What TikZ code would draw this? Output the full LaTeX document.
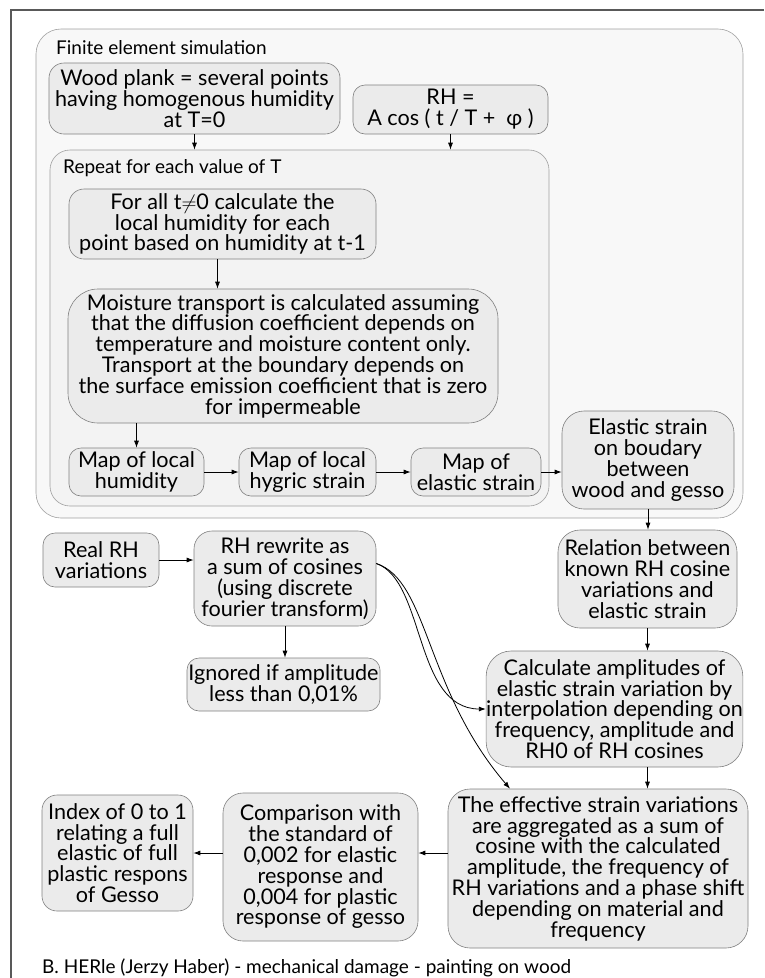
\documentclass[tikz,border=0pt]{standalone}
\usepackage{fontspec}
\setmainfont{Lato}
\usetikzlibrary{arrows.meta}

\definecolor{boxfill}{HTML}{EBEBEB}
\definecolor{boxline}{HTML}{808080}
\definecolor{outerfill}{HTML}{F8F8F8}
\definecolor{innerfill}{HTML}{F3F3F3}
\definecolor{frameline}{HTML}{A0A0A0}

\begin{document}
\begin{tikzpicture}[x=1pt, y=-1pt,
    font=\fontsize{19}{20.8}\selectfont,
    box/.style={draw=boxline, fill=boxfill, line width=0.6pt, rounded corners=15pt, align=center, inner sep=0pt,
        font=\fontsize{21.6}{20.8}\selectfont},
    group/.style={draw=frameline, line width=0.6pt, inner sep=0pt},
    arr/.style={-{Latex[length=7pt,width=5pt]}, line width=0.8pt}]
    \useasboundingbox (0,0) rectangle (764,978);

    % Outer frame (cut at right and bottom)
    \draw[line width=1.2pt, black!65] (11,978) -- (11,10) -- (764,10);

    % --- GROUPS ---
    \node[group, fill=outerfill, rounded corners=25pt, minimum width=707pt, minimum height=489pt] (fe) at (389.5,273.5) {};
    \node[anchor=west, inner sep=0pt] (fetitle) at (56,48) {Finite element simulation};
    \node[group, fill=innerfill, rounded corners=20pt, minimum width=499pt, minimum height=356pt] (rep) at (299.5,328) {};
    \node[anchor=west, inner sep=0pt] (reptitle) at (63,168) {Repeat for each value of T};

    % --- SIMULATION ---
    \node[box, minimum width=291pt, minimum height=71pt] (wood) at (194.5,98.5)
        {Wood plank = several points\\having homogenous humidity\\at T=0};
    \node[box, rounded corners=12pt, minimum width=195pt, minimum height=49pt] (rh) at (450.5,109.5)
        {RH =\\A cos ( t / T + \ φ )};
    \node[box, minimum width=307pt, minimum height=70pt] (forall) at (222.5,224)
        {For all t$\neq$0 calculate the\\local humidity for each\\point based on humidity at t-1};
    \node[box, rounded corners=30pt, minimum width=430pt, minimum height=134pt] (moist) at (283,356)
        {Moisture transport is calculated assuming\\that the diffusion coefficient depends on\\temperature and moisture content only.\\Transport at the boundary depends on\\the surface emission coefficient that is zero\\for impermeable};
    \node[box, rounded corners=12pt, minimum width=135pt, minimum height=48pt] (map1) at (136.5,472)
        {Map of local\\humidity};
    \node[box, rounded corners=12pt, minimum width=137pt, minimum height=48pt] (map2) at (307.5,472)
        {Map of local\\hygric strain};
    \node[box, rounded corners=12pt, minimum width=130pt, minimum height=48pt] (map3) at (476,472)
        {Map of\\elastic strain};
    \node[box, rounded corners=22pt, minimum width=172pt, minimum height=98pt] (elastic) at (648,460)
        {Elastic strain\\on boudary\\between\\wood and gesso};

    % --- RH DECOMPOSITION ---
    \node[box, rounded corners=12pt, minimum width=116pt, minimum height=54pt] (real) at (101,560)
        {Real RH\\variations};
    \node[box, rounded corners=18pt, minimum width=182pt, minimum height=95pt] (rhw) at (285,578.5)
        {RH rewrite as\\a sum of cosines\\(using discrete\\fourier transform)};
    \node[box, rounded corners=12pt, minimum width=193pt, minimum height=53pt] (ign) at (283.5,684.5)
        {Ignored if amplitude\\less than 0,01\%};

    % --- STRAIN ---
    \node[box, rounded corners=22pt, minimum width=179pt, minimum height=98pt] (rel) at (647.5,579)
        {Relation between\\known RH cosine\\variations and\\elastic strain};
    \node[box, rounded corners=25pt, minimum width=255pt, minimum height=116pt] (calc) at (614.5,709)
        {Calculate amplitudes of\\elastic strain variation by\\interpolation depending on\\frequency, amplitude and\\RH0 of RH cosines};
    \node[box, rounded corners=22pt, minimum width=300pt, minimum height=159pt] (eff) at (598,868.5)
        {The effective strain variations\\are aggregated as a sum of\\cosine with the calculated\\amplitude, the frequency of\\RH variations and a phase shift\\depending on material and\\frequency};
    \node[box, rounded corners=20pt, minimum width=195pt, minimum height=148pt] (comp) at (320.5,867)
        {Comparison with\\the standard of\\0,002 for elastic\\response and\\0,004 for plastic\\response of gesso};
    \node[box, rounded corners=15pt, minimum width=151pt, minimum height=116pt] (idx) at (117.5,853)
        {Index of 0 to 1\\relating a full\\elastic of full\\plastic respons\\of Gesso};

    \node[anchor=west, inner sep=0pt] (caption) at (42,968)
        {B. HERle (Jerzy Haber) - mechanical damage - painting on wood};

    % --- ARROWS ---
    \draw[arr] (wood.south) -- (wood.south |- rep.north);
    \draw[arr] (rh.south) -- (rh.south |- rep.north);
    \draw[arr] ([xshift=-5pt]forall.south) -- ([xshift=-5pt]forall.south |- moist.north);
    \draw[arr] (map1.north |- moist.south) -- (map1.north);
    \draw[arr] (map1) -- (map2);
    \draw[arr] (map2) -- (map3);
    \draw[arr] (map3.east) -- (map3.east -| elastic.west);
    \draw[arr] (elastic.south) -- (elastic.south |- rel.north);
    \draw[arr] (rel.south) -- (rel.south |- calc.north);
    \draw[arr] (rel.south |- calc.south) -- (rel.south |- eff.north);
    \draw[arr] (real.east) -- (real.east -| rhw.west);
    \draw[arr] (rhw.south) -- (rhw.south |- ign.north);
    \draw[arr] ([yshift=15pt]rhw.east) .. controls +(49,17) and +(-72,0) .. (calc.west);
    \draw[arr] ([yshift=15pt]rhw.east) .. controls +(52,17) and +(-85,-99) .. ([xshift=-88pt]eff.north);
    \draw[arr] (eff.west |- idx) -- (comp.east |- idx);
    \draw[arr] (comp.west |- idx) -- (idx.east);
\end{tikzpicture}
\end{document}
